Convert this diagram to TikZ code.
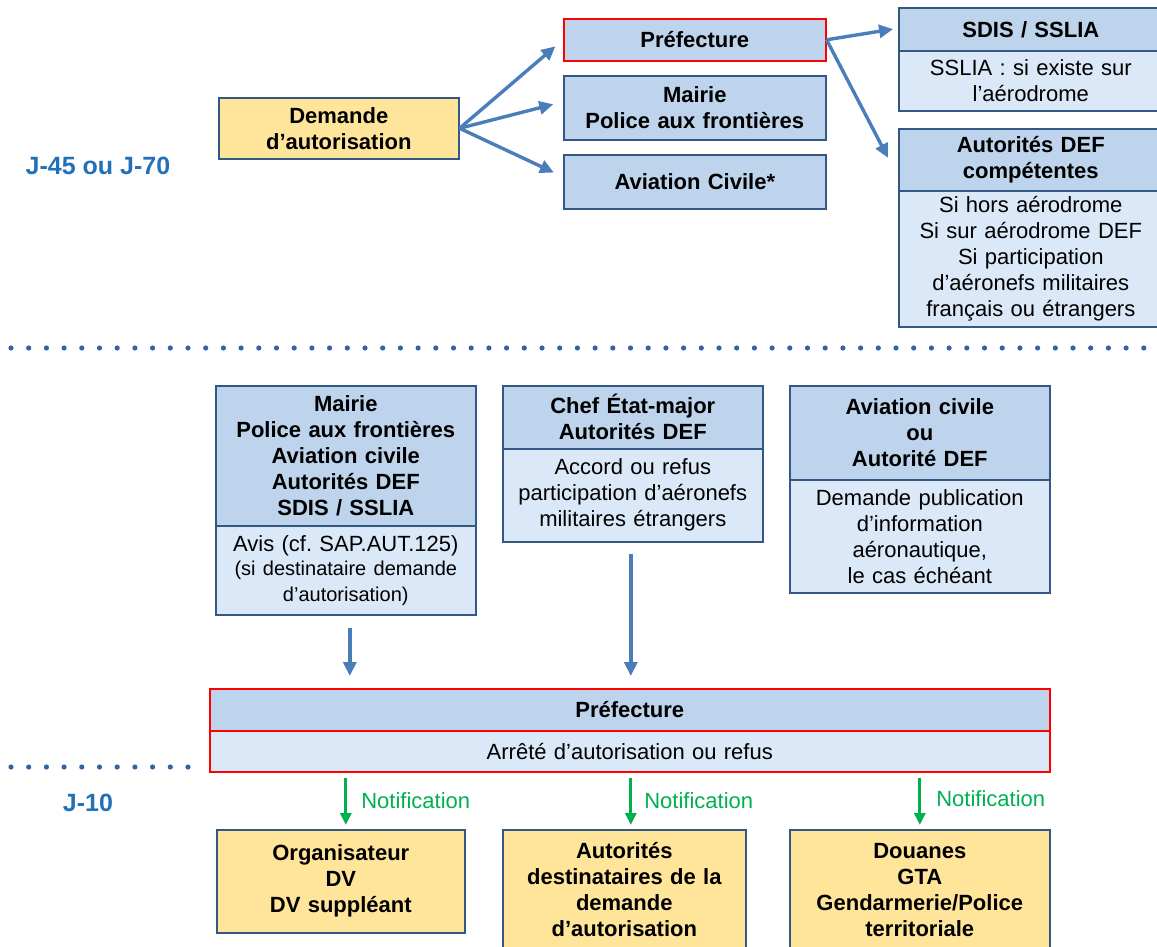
\documentclass[tikz,border=0pt]{standalone}
\usepackage{fontspec}
\setmainfont{Liberation Sans}
\usetikzlibrary{arrows.meta,calc}
\frenchspacing

\definecolor{hdrfill}{RGB}{189,212,236}
\definecolor{bdyfill}{RGB}{219,232,247}
\definecolor{edge}{RGB}{52,88,132}
\definecolor{notefill}{RGB}{255,229,153}
\definecolor{flow}{RGB}{74,126,187}
\definecolor{notifgreen}{RGB}{0,176,80}
\definecolor{jblue}{RGB}{33,112,186}
\definecolor{dotc}{RGB}{52,98,164}

\newcommand{\txt}{\fontsize{22}{26}\selectfont}
\newcommand{\smalltxt}{\fontsize{20}{24}\selectfont}
\newcommand{\phasetxt}{\fontsize{25}{30}\selectfont}

\tikzset{
  cell/.style={draw=edge, line width=1.6pt, anchor=north west, inner sep=0pt,
               align=center, font=\txt},
  head/.style={cell, fill=hdrfill, font=\txt\bfseries},
  body/.style={cell, fill=bdyfill},
  yellowbox/.style={cell, fill=notefill, font=\txt\bfseries},
  redcell/.style={draw=red},
  flowarrow/.style={draw=flow, line width=3.4pt, -{Triangle[length=14pt,width=13pt]}},
  notifarrow/.style={draw=notifgreen, line width=3pt, -{Triangle[length=12pt,width=11pt]}},
  notiflabel/.style={text=notifgreen, font=\txt, anchor=west, inner sep=0pt},
  phase/.style={text=jblue, font=\phasetxt\bfseries, inner sep=0pt},
  dotline/.style={draw=dotc, line width=5.2pt, line cap=round, dash pattern=on 0pt off 17.7pt},
}

\begin{document}
\begin{tikzpicture}[x=1pt,y=-1pt]
\useasboundingbox (0,0) rectangle (1157,947);
\clip (0,0) rectangle (1157,947);

% ---------- J-45 / J-70 ----------
\node[yellowbox, minimum width=240, minimum height=61, text width=232] (dem) at (218,97)
  {Demande\\d’autorisation};

\node[head, redcell, minimum width=262, minimum height=42, text width=254] (pref1) at (563,18) {Préfecture};
\node[head, minimum width=262, minimum height=64, text width=254] (mairie1) at (563,75)
  {Mairie\\Police aux frontières};
\node[head, minimum width=262, minimum height=54, text width=254] (avc1) at (563,154) {Aviation Civile*};

\node[head, minimum width=264, minimum height=43, text width=256] (sdish) at (898,7) {SDIS / SSLIA};
\node[body, minimum width=264, minimum height=60, text width=256] (sdisb) at (898,50)
  {SSLIA : si existe sur\\l’aérodrome};

\node[head, minimum width=264, minimum height=62, text width=256] (defh) at (898,128)
  {Autorités DEF\\compétentes};
\node[body, minimum width=264, minimum height=136, text width=256] (defb) at (898,190)
  {Si hors aérodrome\\Si sur aérodrome DEF\\Si participation\\d’aéronefs militaires\\français ou étrangers};

\draw[flowarrow, shorten >=10pt] (dem.east) -- (pref1.west);
\draw[flowarrow, shorten >=10pt] (dem.east) -- ([yshift=6pt]mairie1.west);
\draw[flowarrow, shorten >=10pt] (dem.east) -- ([yshift=5pt]avc1.west);
\draw[flowarrow, shorten >=5pt] (pref1.east) -- ([yshift=1pt]sdish.west);
\draw[flowarrow] (pref1.east) -- ([xshift=-10pt,yshift=2pt]defh.west);

\node[phase] (j45) at (98,166) {J-45 ou J-70};

\draw[dotline] (11,348) -- (1152,348);

% ---------- opinions ----------
\node[head, minimum width=260, minimum height=140, text width=252] (m1h) at (215,385)
  {Mairie\\Police aux frontières\\Aviation civile\\Autorités DEF\\SDIS / SSLIA};
\node[body, minimum width=260, minimum height=89, text width=252] (m1b) at (215,525)
  {Avis (cf. SAP.AUT.125)\\\smalltxt (si destinataire demande\\d’autorisation)};

\node[head, minimum width=260, minimum height=63, text width=252] (m2h) at (502,385)
  {Chef État-major\\Autorités DEF};
\node[body, minimum width=260, minimum height=93, text width=252] (m2b) at (502,448)
  {Accord ou refus\\participation d’aéronefs\\militaires étrangers};

\node[head, minimum width=260, minimum height=94, text width=252] (m3h) at (789,385)
  {Aviation civile\\ou\\Autorité DEF};
\node[body, minimum width=260, minimum height=113, text width=252] (m3b) at (789,479)
  {Demande publication\\d’information\\aéronautique,\\le cas échéant};

% ---------- decision ----------
\node[head, redcell, minimum width=840, minimum height=42, text width=830] (pref2h) at (209,688) {Préfecture};
\node[body, redcell, minimum width=840, minimum height=41, text width=830] (pref2b) at (209,730)
  {Arrêté d’autorisation ou refus};

\draw[flowarrow, shorten <=12pt, shorten >=12pt] ([xshift=4pt]m1b.south) -- ([xshift=4pt]m1b.south |- pref2h.north);
\draw[flowarrow, shorten <=11pt, shorten >=12pt] ([xshift=-2pt]m2b.south) -- ([xshift=-2pt]m2b.south |- pref2h.north);

\draw[dotline] (11,767) -- (192,767);
\node[phase] (j10) at (88,803) {J-10};

% ---------- notification ----------
\node[yellowbox, minimum width=248, minimum height=103, text width=240] (b1) at (216,829)
  {Organisateur\\DV\\DV suppléant};
\node[yellowbox, minimum width=243, minimum height=120, text width=240] (b2) at (502,829)
  {Autorités\\destinataires de la\\demande\\d’autorisation};
\node[yellowbox, minimum width=260, minimum height=120, text width=252] (b3) at (789,829)
  {Douanes\\GTA\\Gendarmerie/Police\\territoriale};

\draw[notifarrow, shorten <=5pt, shorten >=4pt] ([xshift=5pt]b1.north |- pref2b.south) -- ([xshift=5pt]b1.north)
  node[notiflabel, midway, xshift=14pt] (n1) {Notification};
\draw[notifarrow, shorten <=5pt, shorten >=4pt] ([xshift=6.5pt]b2.north |- pref2b.south) -- ([xshift=6.5pt]b2.north)
  node[notiflabel, midway, xshift=12pt] (n2) {Notification};
\draw[notifarrow, shorten <=5pt, shorten >=4pt] (b3.north |- pref2b.south) -- (b3.north)
  node[notiflabel, midway, xshift=15pt, yshift=2pt] (n3) {Notification};
\end{tikzpicture}
\end{document}
